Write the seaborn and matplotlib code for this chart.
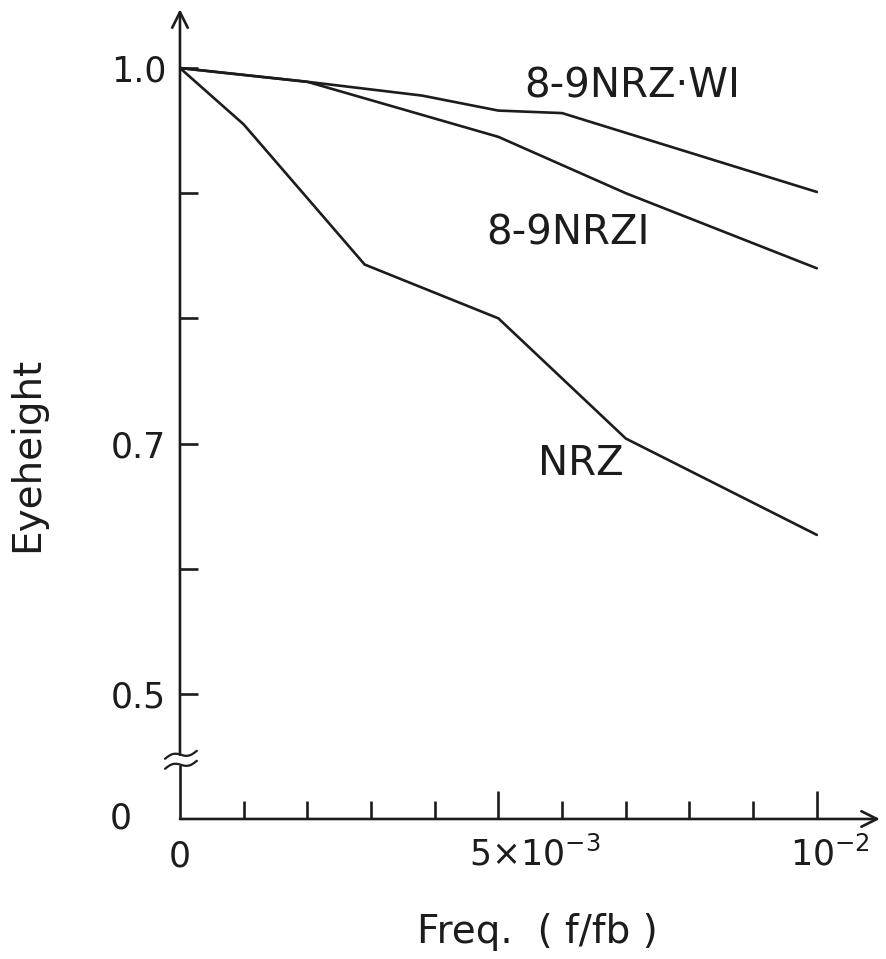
import numpy as np
import pandas as pd
import matplotlib
matplotlib.use("Agg")
import matplotlib.pyplot as plt
import seaborn as sns

# values
freq_wi = [0.0, 0.002, 0.0038, 0.005, 0.006, 0.010]
eye_wi = [1.0, 0.989, 0.978, 0.966, 0.964, 0.901]

freq_nrzi = [0.0, 0.002, 0.005, 0.007, 0.010]
eye_nrzi = [1.0, 0.989, 0.945, 0.900, 0.840]

freq_nrz = [0.0, 0.001, 0.0029, 0.005, 0.007, 0.010]
eye_nrz = [1.0, 0.955, 0.843, 0.800, 0.704, 0.627]

curve_names = ["8-9NRZ·WI", "8-9NRZI", "NRZ"]
label_pos = [(0.0071, 0.985), (0.0061, 0.868), (0.0063, 0.684)]

ytick_vals = [0.5, 0.6, 0.7, 0.8, 0.9, 1.0]
ytick_labels = ["0.5", "", "0.7", "", "", "1.0"]
xtick_major = [0.005, 0.010]
xtick_minor = [0.001, 0.002, 0.003, 0.004, 0.006, 0.007, 0.008, 0.009]

sns.set_style("white")
plt.rcParams["font.family"] = ["DejaVu Sans"]

ink = "#1c1c1c"
lw = 1.9

fig = plt.figure(figsize=(8.87, 9.59), dpi=100)
ax = fig.add_axes([0.2029, 0.146, 0.7948, 0.8457])

df = pd.concat([
    pd.DataFrame({"freq": freq_wi, "eye": eye_wi, "code": curve_names[0]}),
    pd.DataFrame({"freq": freq_nrzi, "eye": eye_nrzi, "code": curve_names[1]}),
    pd.DataFrame({"freq": freq_nrz, "eye": eye_nrz, "code": curve_names[2]}),
])
for name in curve_names:
    sub = df[df["code"] == name]
    sns.lineplot(data=sub, x="freq", y="eye", ax=ax, color=ink, lw=lw,
                 estimator=None, sort=False, legend=False)
ax.set_xlabel("")
ax.set_ylabel("")

for name, (tx, ty) in zip(curve_names, label_pos):
    ax.text(tx, ty, name, fontsize=29, ha="center", va="center", color=ink)

ax.set_xlim(0, 0.01107)
ax.set_ylim(0.4, 1.048)
for s in ax.spines.values():
    s.set_visible(False)

# axes drawn by hand: arrows and a break on the y axis
arrow = dict(arrowstyle="->", lw=lw, color=ink, mutation_scale=28,
             shrinkA=0, shrinkB=0)
ax.annotate("", xy=(0.01099, 0.4), xytext=(0, 0.4), arrowprops=arrow,
            annotation_clip=False)
ax.annotate("", xy=(0, 1.047), xytext=(0, 0.4513), arrowprops=arrow,
            annotation_clip=False)
ax.plot([0, 0], [0.4, 0.4433], color=ink, lw=lw, clip_on=False,
        solid_capstyle="butt")
t = np.linspace(0, 1, 40)
for y0 in (0.4433, 0.4513):
    ax.plot(-0.000235 + 0.0005 * t, y0 + 0.0064 * (t - 0.5) + 0.0022 * np.sin(2 * np.pi * t),
            color=ink, lw=1.6, clip_on=False)

ax.set_xticks(xtick_major)
ax.set_xticks(xtick_minor, minor=True)
ax.tick_params(axis="x", which="major", bottom=True, direction="in", length=20,
               width=lw, color=ink, labelbottom=False)
ax.tick_params(axis="x", which="minor", bottom=True, direction="in", length=13,
               width=lw, color=ink, labelbottom=False)
ax.set_yticks(ytick_vals, labels=ytick_labels)
ax.tick_params(axis="y", left=True, direction="in", length=13, width=lw, color=ink,
               labelsize=25, pad=10, labelcolor=ink)

# tick labels placed like in the original figure
ax.text(-0.00075, 0.4, "0", fontsize=25, ha="right", va="center", color=ink, clip_on=False)
ax.text(0.0, 0.37, "0", fontsize=25, ha="center", va="center", color=ink, clip_on=False)
ax.text(0.00557, 0.372, r"5×10$^{-3}$", fontsize=25, ha="center", va="center", color=ink, clip_on=False)
ax.text(0.0102, 0.372, r"10$^{-2}$", fontsize=25, ha="center", va="center", color=ink, clip_on=False)

fig.text(27 / 887, 1 - 454 / 959, "Eyeheight", rotation=90, fontsize=28,
         ha="center", va="center", color=ink)
fig.text(537 / 887, 1 - 932 / 959, "Freq.  ( f/fb )", fontsize=28,
         ha="center", va="center", color=ink)

fig.savefig("out.png", dpi=100, facecolor="white")
